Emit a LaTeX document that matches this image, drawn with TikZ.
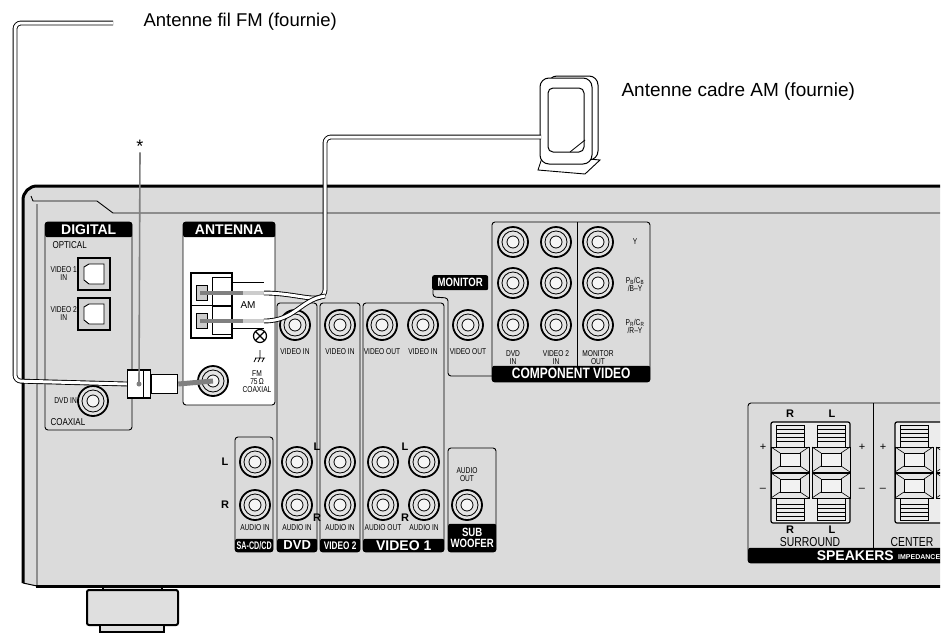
\documentclass[tikz,border=0pt]{standalone}
\usepackage{fontspec}
\setmainfont{Liberation Sans}
\usetikzlibrary{positioning}

\newcommand{\nar}[1]{\scalebox{0.8}[1]{#1}}

\tikzset{
  wire/.style={draw=black, line width=0.9pt, double=white, double distance=3pt},
  box/.style={draw, line width=0.9pt, rounded corners=3pt},
  header/.style={fill=black, text=white, font=\bfseries\fontsize{14}{14}\selectfont, inner sep=0pt, rounded corners=2pt},
  lbl/.style={font=\fontsize{8.5}{8}\selectfont, align=center, inner sep=0pt, xscale=0.78, transform shape},
  lr/.style={font=\bfseries\fontsize{11}{11}\selectfont, inner sep=0pt},
  jack/.pic={
    \draw[line width=1.8pt, fill=gray!22] (0,0) circle (15pt);
    \draw[line width=0.8pt] (0,0) circle (11pt);
    \draw[line width=0.8pt, fill=gray!8] (0,0) circle (6pt);
  },
  spk/.pic={
    % one speaker terminal cell, 38 x 50
    \foreach \yy in {7,11,15,19} \draw[line width=0.6pt] (5,\yy) -- (33,\yy);
    \draw[line width=0.6pt] (5,3) rectangle (33,25);
    \draw[line width=1pt, fill=gray!20] (0,25) rectangle (38,50);
    \draw[line width=0.8pt, fill=gray!10] (9,31) rectangle (29,44);
    \draw[line width=0.6pt] (0,25) -- (9,31) (38,25) -- (29,31) (0,50) -- (9,44) (38,50) -- (29,44);
  }
}

\begin{document}
\begin{tikzpicture}[x=1pt, y=-1pt]
\useasboundingbox (0,0) rectangle (946,635);

% foot
\draw[line width=2pt, fill=gray!25] (103,583) rectangle (162,593);
\draw[line width=2pt, fill=gray!25, rounded corners=2pt] (87,590) rectangle (178,625);
\draw[line width=2pt, fill=gray!25] (100,625) rectangle (164,632);

\begin{scope}
\clip (0,0) rectangle (940,635);
% panel
\fill[gray!28] (23,583) -- (23,200) arc[start angle=180, end angle=90, radius=14pt] -- (960,186) -- (960,586) -- (37,586) -- cycle;
\draw[line width=3pt, rounded corners=14pt] (23,583) -- (23,186) -- (960,186);
\draw[line width=3pt] (36,586) -- (960,586);
\draw[line width=1pt] (23,583) -- (37,586);
\draw[line width=0.9pt] (37,586) -- (37,204) (31,196) -- (33,201) -- (97,201) -- (113,213) -- (960,213);

% DIGITAL
\draw[box] (45,222) rectangle (132,430);
\node[header, minimum width=87pt, minimum height=15pt, anchor=north west] (digital) at (45,222) {DIGITAL};
\node[anchor=west, font=\fontsize{10}{10}\selectfont] (optical) at (49,245) {\nar{OPTICAL}};
\foreach \yy/\n in {258/1,298/2} {
  \draw[line width=1.3pt, fill=gray!35] (78,\yy) rectangle (110,\yy+32);
  \draw[line width=0.9pt, fill=white] (84,\yy+9) -- (89,\yy+6) -- (104,\yy+6) -- (104,\yy+26) -- (89,\yy+26) -- (84,\yy+22) -- cycle;
  \node[lbl, anchor=east] (opt\n) at (77,\yy+16) {VIDEO \n\\IN};
}
\pic at (93,401) {jack};
\node[lbl, anchor=east] (dvdin) at (77,401) {DVD IN};
\node[anchor=west, font=\fontsize{10}{10}\selectfont] (coaxial) at (47,422) {\nar{COAXIAL}};

% ANTENNA
\draw[box, fill=white] (183,222) rectangle (275,405);
\node[header, minimum width=92pt, minimum height=15pt, anchor=north west] (antenna) at (183,222) {ANTENNA};
\draw[line width=1.2pt, fill=white] (191,273) rectangle (232,338);
\draw[line width=0.8pt] (212,277) rectangle (232,305) (212,306) rectangle (232,334) (191,305) -- (212,305);
\draw[line width=0.8pt, fill=gray!40] (196,285) rectangle (207,300) (196,313) rectangle (207,328);
\draw[line width=0.8pt] (232,282) -- (264,282) (232,328) -- (264,328);
\node[font=\fontsize{10}{10}\selectfont] (am) at (248,305) {AM};
\draw[line width=1.2pt] (260,336) circle (6.5pt) (255.5,331.5) -- (264.5,340.5) (264.5,331.5) -- (255.5,340.5);
\draw[line width=0.7pt] (260,350) -- (260,358) (255,358) -- (265,358) (256,358) -- (254,362) (260,358) -- (258,362) (264,358) -- (262,362);
\pic at (213,381) {jack};
\coordinate (fmjack) at (213,381);
\node[lbl] (fmtxt) at (257,382) {FM\\75\,Ω\\COAXIAL};

% video and audio columns
\draw[box] (277,303) rectangle (317,552);
\draw[box] (320,303) rectangle (360,552);
\draw[box] (363,303) rectangle (444,552);
\draw[box] (235,437) rectangle (273,552);
\draw[box] (448,448) rectangle (496,552);
\foreach \xx/\t in {295/VIDEO IN,340/VIDEO IN,382/VIDEO OUT,423/VIDEO IN,468/VIDEO OUT} {
  \pic at (\xx,325) {jack};
  \node[lbl] at (\xx,352) {\t};
}
\draw[box] (433,290) -- (433,297) -- (448,298) -- (448,376) -- (492,376);
\node[header, minimum width=56pt, minimum height=15pt, anchor=north west] (monitor) at (432,275) {\fontsize{12}{12}\selectfont\nar{MONITOR}};

% component video
\draw[box] (492,222) rectangle (650,382);
\draw[line width=0.9pt] (577,222) -- (577,366);
\node[header, minimum width=158pt, minimum height=16pt, anchor=south west] (component) at (492,382) {\fontsize{15}{15}\selectfont\nar{COMPONENT VIDEO}};
\foreach \xx in {513,556,598} \foreach \yy in {242,283,325} \pic at (\xx,\yy) {jack};
\node[lbl] at (513,358) {DVD\\IN};
\node[lbl] at (556,358) {VIDEO 2\\IN};
\node[lbl] at (598,358) {MONITOR\\OUT};
\node[lbl] at (635,242) {Y};
\node[lbl] at (635,284) {P\textsubscript{B}/C\textsubscript{B}\\/B--Y};
\node[lbl] at (635,326) {P\textsubscript{R}/C\textsubscript{R}\\/R--Y};

% audio
\foreach \xx in {255,297,340,383,424} {
  \pic at (\xx,462) {jack};
  \pic at (\xx,505) {jack};
}
\foreach \xx/\t in {255/AUDIO IN,297/AUDIO IN,340/AUDIO IN,383/AUDIO OUT,424/AUDIO IN} \node[lbl] at (\xx,528) {\t};
\pic at (467,505) {jack};
\node[lbl] (subaudio) at (467,475) {AUDIO\\OUT};
\node[lr] at (225,462) {L};
\node[lr] at (225,505) {R};
\node[lr] at (317,447) {L};
\node[lr] at (317,518) {R};
\node[lr] at (405,447) {L};
\node[lr] at (405,518) {R};
\node[header, minimum width=38pt, minimum height=13pt, anchor=south west] (sacd) at (235,552) {\fontsize{11}{11}\selectfont\scalebox{0.65}[1]{SA-CD/CD}};
\node[header, minimum width=40pt, minimum height=13pt, anchor=south west] (dvd) at (277,552) {\fontsize{13}{13}\selectfont DVD};
\node[header, minimum width=40pt, minimum height=13pt, anchor=south west] (video2) at (320,552) {\fontsize{11}{11}\selectfont\scalebox{0.75}[1]{VIDEO 2}};
\node[header, minimum width=81pt, minimum height=13pt, anchor=south west] (video1) at (363,552) {\fontsize{14}{14}\selectfont VIDEO 1};
\node[header, minimum width=48pt, minimum height=28pt, anchor=south west, align=center, font=\bfseries\fontsize{12}{11}\selectfont] (sub) at (448,552) {\nar{SUB}\\\nar{WOOFER}};

% speakers
\draw[box] (748,403) rectangle (980,563);
\draw[line width=0.9pt] (873,403) -- (873,548);
\node[header, minimum width=232pt, minimum height=15pt, anchor=south west] (speakers) at (748,563) {};
\node[text=white, font=\bfseries\fontsize{14}{14}\selectfont, anchor=east, inner sep=0pt] at (894,556) {SPEAKERS};
\node[text=white, font=\bfseries\fontsize{7}{7}\selectfont, anchor=west, inner sep=0pt] at (898,557) {IMPEDANCE};
\draw[line width=1.2pt, rounded corners=2pt, fill=gray!15] (771,422) rectangle (850,523);
\draw[line width=1.2pt, rounded corners=2pt, fill=gray!15] (895,422) rectangle (974,523);
\foreach \xx in {771,812,895,936} {
  \pic at (\xx,422) {spk};
  \pic[yscale=-1] at (\xx,523) {spk};
}
\node[lr] at (790,414) {R};
\node[lr] at (832,414) {L};
\node[lr] at (790,530) {R};
\node[lr] at (832,530) {L};
\node[font=\fontsize{13}{13}\selectfont] (surround) at (810,542) {\nar{SURROUND}};
\node[font=\fontsize{13}{13}\selectfont] (center) at (912,542) {\nar{CENTER}};
\foreach \xx in {763,862,883} {
  \node[font=\fontsize{11}{11}\selectfont] at (\xx,447) {+};
  \node[font=\fontsize{11}{11}\selectfont] at (\xx,490) {--};
}
\end{scope}

% AM loop antenna and wire
\draw[line width=0.9pt, fill=white] (543,155) -- (600,160) -- (585,174) -- (538,170) -- cycle;
\draw[line width=1pt, fill=white, rounded corners=9pt] (548,76) rectangle (598,160);
\draw[line width=1pt, fill=white, rounded corners=9pt] (540,78) rectangle (592,164);
\draw[line width=1pt, fill=white, rounded corners=5pt] (548,88) rectangle (584,152);
\draw[line width=0.8pt] (570,152) -- (585,140);
\coordinate (loop) at (541,137);
\draw[line width=4pt, gray] (200,293) -- (243,293) (200,321) -- (243,321);
\draw[line width=4pt, gray!40] (243,293) -- (264,293) (243,321) -- (264,321);
\draw[wire, rounded corners=6pt] (loop) -- (325,137) -- (325,296) .. controls (310,300) and (290,293) .. (264,293);
\draw[wire] (325,296) .. controls (300,300) and (295,321) .. (264,321);
\node[anchor=west, font=\fontsize{19}{19}\selectfont] (amlabel) at (618,92) {Antenne cadre AM (fournie)};

% FM wire antenna
\coordinate (fmend) at (113,23);
\node[anchor=west, font=\fontsize{18.5}{18.5}\selectfont] (fmlabel) at (140,22) {Antenne fil FM (fournie)};
\node[draw, line width=1.2pt, fill=white, minimum width=23pt, minimum height=28pt, inner sep=0pt] (plug) at (139,384) {};
\draw[line width=0.8pt] (143,370) -- (143,398);
\node[draw, line width=1.2pt, fill=white, minimum width=26pt, minimum height=19pt, inner sep=0pt, right=0pt of plug] (plugb) {};
\draw[line width=5pt, gray] (plugb.east) -- (fmjack);
\draw[wire, rounded corners=6pt] (fmend) -- (15,23) -- (15,381) -- (plug.west);
\node[font=\fontsize{18}{18}\selectfont, inner sep=0pt] (star) at (140,146) {*};
\draw[gray, line width=1.6pt] (star.south) -- (plug.center);
\fill[gray] (plug.center) circle (2.5pt);
\end{tikzpicture}
\end{document}
